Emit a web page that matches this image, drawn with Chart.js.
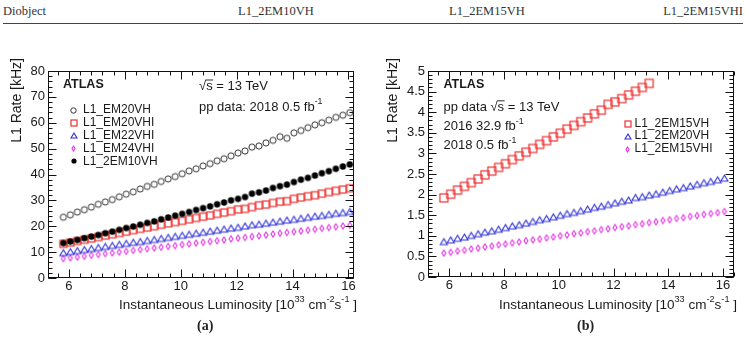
<!DOCTYPE html>
<html><head><meta charset="utf-8">
<script src="https://cdn.jsdelivr.net/npm/chart.js@4"></script>
<style>
html,body{margin:0;padding:0;background:#fff;width:746px;height:339px;overflow:hidden;position:relative;}
.h{position:absolute;top:4px;font-family:"Liberation Serif","Times New Roman",serif;font-size:12.5px;color:#333;white-space:nowrap;}
#rule{position:absolute;left:3px;top:23px;width:740px;height:1px;background:#444;}
canvas{position:absolute;top:0;}
#ca{left:0px;}
#cb{left:373px;}
.pl{position:absolute;top:318px;font-family:"Liberation Serif","Times New Roman",serif;font-weight:bold;font-size:14px;color:#222;}
</style></head>
<body>
<div class="h" style="left:3px">Diobject</div>
<div class="h" style="left:238px">L1_2EM10VH</div>
<div class="h" style="left:449px">L1_2EM15VH</div>
<div class="h" style="right:3px">L1_2EM15VHI</div>
<div id="rule"></div>
<canvas id="ca" width="373" height="339"></canvas>
<canvas id="cb" width="373" height="339"></canvas>
<div class="pl" style="left:197px">(a)</div>
<div class="pl" style="left:577px">(b)</div>
<script>
// ---------- data ----------
const lumi = [5.80, 6.05, 6.30, 6.55, 6.80, 7.05, 7.30, 7.55, 7.80, 8.05,
  8.30, 8.55, 8.80, 9.05, 9.30, 9.55, 9.80, 10.05, 10.30, 10.55,
  10.80, 11.05, 11.30, 11.55, 11.80, 12.05, 12.30, 12.55, 12.80, 13.05,
  13.30, 13.55, 13.80, 14.05, 14.30, 14.55, 14.80, 15.05, 15.30, 15.55,
  15.80, 16.05];

// panel (a)
const em20vh = [23.5, 24.4, 25.5, 26.4, 27.4, 28.5, 29.4, 30.3, 31.4, 32.4,
  33.3, 34.4, 35.4, 36.2, 37.3, 38.3, 39.2, 40.3, 41.4, 42.2,
  43.3, 44.2, 45.3, 46.1, 47.2, 48.3, 49.1, 50.6, 51.0, 52.2,
  53.2, 54.6, 54.0, 56.1, 57.0, 58.1, 59.2, 60.0, 61.0, 62.1,
  62.9, 63.9];
const em20vhi = [13.2, 13.7, 14.3, 14.8, 15.3, 15.8, 16.4, 16.9, 17.4, 17.9,
  18.5, 19.0, 19.5, 20.0, 20.6, 21.1, 21.6, 22.1, 22.7, 23.2,
  23.7, 24.2, 24.8, 25.3, 25.8, 26.5, 26.7, 27.4, 28.1, 28.4,
  29.0, 29.5, 29.7, 30.6, 31.1, 31.6, 32.0, 32.6, 33.2, 33.7,
  34.2, 34.7];
const em22vhi = [9.8, 10.2, 10.6, 11.0, 11.4, 11.8, 12.2, 12.6, 13.0, 13.4,
  13.8, 14.1, 14.5, 14.9, 15.3, 15.7, 16.1, 16.5, 16.9, 17.3,
  17.7, 18.1, 18.5, 18.9, 19.3, 19.6, 20.1, 20.6, 20.8, 21.2,
  21.6, 22.0, 22.4, 22.7, 23.1, 23.5, 23.9, 24.2, 24.6, 25.0,
  25.3, 25.7];
const em24vhi = [7.5, 7.8, 8.1, 8.4, 8.8, 9.1, 9.4, 9.7, 10.0, 10.3,
  10.7, 11.0, 11.3, 11.6, 11.9, 12.2, 12.5, 12.9, 13.2, 13.5,
  13.8, 14.1, 14.4, 14.7, 15.1, 15.4, 15.7, 16.0, 16.3, 16.6,
  17.0, 17.3, 17.6, 17.9, 18.2, 18.5, 18.8, 19.2, 19.5, 19.8,
  20.1, 20.4];
const twoEm10vh = [13.5, 14.1, 14.7, 15.4, 16.0, 16.6, 17.3, 17.9, 18.6, 19.3,
  19.9, 20.6, 21.3, 21.9, 22.7, 23.4, 24.1, 24.8, 25.5, 26.3,
  27.0, 27.7, 28.5, 29.2, 30.0, 30.6, 31.3, 32.6, 33.1, 33.8,
  34.8, 35.5, 36.1, 37.1, 38.0, 38.7, 39.6, 40.5, 41.3, 42.2,
  43.1, 43.9];

// panel (b)
const twoEm15vh = [1.92, 2.01, 2.11, 2.20, 2.29, 2.38, 2.48, 2.57, 2.66, 2.75,
  2.85, 2.94, 3.03, 3.12, 3.22, 3.31, 3.40, 3.49, 3.59, 3.68,
  3.77, 3.86, 3.96, 4.05, 4.19, 4.25, 4.33, 4.42, 4.51, 4.60,
  4.70];
const twoEm20vh = [0.86, 0.90, 0.94, 0.97, 1.01, 1.05, 1.09, 1.12, 1.16, 1.20,
  1.24, 1.27, 1.31, 1.35, 1.39, 1.42, 1.46, 1.50, 1.54, 1.57,
  1.61, 1.65, 1.69, 1.72, 1.76, 1.80, 1.84, 1.87, 1.93, 1.95,
  1.99, 2.02, 2.06, 2.10, 2.14, 2.17, 2.21, 2.25, 2.29, 2.32,
  2.36, 2.40];
const twoEm15vhi = [0.58, 0.60, 0.63, 0.65, 0.68, 0.70, 0.73, 0.75, 0.78, 0.80,
  0.83, 0.85, 0.88, 0.90, 0.92, 0.95, 0.97, 1.00, 1.02, 1.05,
  1.07, 1.10, 1.12, 1.15, 1.17, 1.20, 1.22, 1.24, 1.27, 1.29,
  1.32, 1.34, 1.37, 1.39, 1.42, 1.44, 1.47, 1.49, 1.52, 1.54,
  1.56, 1.59];

const xTicks = [6, 8, 10, 12, 14, 16];
const yTicksA = [0, 10, 20, 30, 40, 50, 60, 70, 80];
const yTicksB = [0, 0.5, 1, 1.5, 2, 2.5, 3, 3.5, 4, 4.5, 5];
const legendA = ['L1_EM20VH', 'L1_EM20VHI', 'L1_EM22VHI', 'L1_EM24VHI', 'L1_2EM10VH'];
const legendB = ['L1_2EM15VH', 'L1_2EM20VH', 'L1_2EM15VHI'];

// ---------- styling ----------
const FONT = '"Liberation Sans", Arial, Helvetica, sans-serif';
const TXT = '#1a1a1a';
const RED = '#ee3030', BLUE = '#2e2ed6', MAG = '#e633e6', GREY = '#333333';

function mk(w, h, fn) { const c = document.createElement('canvas'); c.width = w; c.height = h; fn(c.getContext('2d')); return c; }
function openCircle(r, col) { const s = Math.ceil(2 * r + 3); return mk(s, s, g => { g.strokeStyle = col; g.lineWidth = 1; g.beginPath(); g.arc(s / 2, s / 2, r, 0, 2 * Math.PI); g.stroke(); }); }
function dot(r, col) { const s = Math.ceil(2 * r + 2); return mk(s, s, g => { g.fillStyle = col; g.beginPath(); g.arc(s / 2, s / 2, r, 0, 2 * Math.PI); g.fill(); }); }
function square(a, col) { const s = a + 4; return mk(s, s, g => { g.strokeStyle = col; g.lineWidth = 1.2; g.strokeRect(2, 2, a, a); }); }
function triangle(w, h, col) { const sw = w + 4, sh = h + 4; return mk(sw, sh, g => { g.strokeStyle = col; g.lineWidth = 1.1; g.beginPath(); g.moveTo(sw / 2, 2); g.lineTo(2 + w, 2 + h); g.lineTo(2, 2 + h); g.closePath(); g.stroke(); }); }
function diamond(w, h, col) { const sw = w + 4, sh = h + 4; return mk(sw, sh, g => { g.strokeStyle = col; g.lineWidth = 1.1; g.beginPath(); g.moveTo(sw / 2, 2); g.lineTo(2 + w, sh / 2); g.lineTo(sw / 2, 2 + h); g.lineTo(2, sh / 2); g.closePath(); g.stroke(); }); }

const M = {
  circ: openCircle(3.1, GREY), dot: dot(3.2, '#000'), sq: square(7, RED), sqB: square(8, RED), tri: triangle(7, 6, BLUE), dia: diamond(4, 6, MAG),
  circL: openCircle(2.7, GREY), dotL: dot(2.6, '#000'), sqL: square(6, RED), triL: triangle(6, 5, BLUE), diaL: diamond(3, 5, MAG)
};

function pts(xs, ys) { return ys.map((v, i) => ({ x: xs[i], y: v })); }
function ds(label, ys, marker, order) { return { label, data: pts(lumi, ys), pointStyle: marker, pointRadius: 4, showLine: false, order }; }

// rich text with superscripts; y = vertical middle
function richWidth(ctx, segs, size) {
  let w = 0;
  for (const s of segs) { ctx.font = (s.sup ? size * 0.68 : size) + 'px ' + FONT; w += ctx.measureText(s.t).width; }
  return w;
}
function drawRich(ctx, segs, x, y, size, align) {
  ctx.save();
  ctx.textBaseline = 'middle'; ctx.textAlign = 'left'; ctx.fillStyle = TXT;
  let cx = align === 'right' ? x - richWidth(ctx, segs, size) : x;
  for (const s of segs) {
    ctx.font = (s.sup ? size * 0.68 : size) + 'px ' + FONT;
    ctx.fillText(s.t, cx, s.sup ? y - size * 0.42 : y);
    cx += ctx.measureText(s.t).width;
  }
  ctx.restore();
}
function sqrtS(ctx, x, y, size, prefix) {
  ctx.save();
  ctx.font = size + 'px ' + FONT; ctx.textBaseline = 'middle'; ctx.fillStyle = TXT;
  let cx = x;
  if (prefix) { ctx.fillText(prefix, cx, y); cx += ctx.measureText(prefix).width; }
  ctx.fillText('\u221A', cx, y); const wr = ctx.measureText('\u221A').width; cx += wr;
  ctx.fillText('s', cx, y); const ws = ctx.measureText('s').width;
  ctx.strokeStyle = TXT; ctx.lineWidth = 0.9; ctx.beginPath(); ctx.moveTo(cx - 0.5, y - size * 0.5); ctx.lineTo(cx + ws + 0.5, y - size * 0.5); ctx.stroke();
  cx += ws;
  ctx.fillText(' = 13 TeV', cx, y);
  ctx.restore();
}

function decor(chart, minorX, minorY, yMinorFirst, yMinorCount) {
  const { ctx, chartArea: a, scales: { x, y } } = chart;
  ctx.save();
  ctx.strokeStyle = '#111'; ctx.lineWidth = 1;
  const L = Math.round(a.left) + 0.5, R = Math.round(a.right) - 0.5, T = Math.round(a.top) + 0.5, B = Math.round(a.bottom) - 0.5;
  ctx.strokeRect(L, T, R - L, B - T);
  ctx.beginPath();
  const xt = (v, len) => { const p = Math.round(x.getPixelForValue(v)) + 0.5; ctx.moveTo(p, B); ctx.lineTo(p, B - len); ctx.moveTo(p, T); ctx.lineTo(p, T + len); };
  const yt = (v, len) => { const p = Math.round(y.getPixelForValue(v)) + 0.5; ctx.moveTo(L, p); ctx.lineTo(L + len, p); ctx.moveTo(R, p); ctx.lineTo(R - len, p); };
  xTicks.forEach(v => xt(v, 8));
  for (let k = -10; k <= 40; k++) { const v = 6 + k * minorX; if (v >= x.min && v <= x.max && Math.abs(v / 2 - Math.round(v / 2)) > 1e-6) xt(v, 4); }
  chart.options.scales.y.__major.forEach(v => yt(v, 8));
  for (let k = 0; k <= yMinorCount; k++) { const v = yMinorFirst + k * minorY; if (v >= y.min && v <= y.max) yt(v, 4); }
  ctx.stroke();
  ctx.restore();
}

function axisTitles(chart, yTitleX) {
  const { ctx, chartArea: a } = chart;
  drawRich(ctx, [{ t: 'Instantaneous Luminosity [10' }, { t: '33', sup: true }, { t: ' cm' }, { t: '-2', sup: true }, { t: 's' }, { t: '-1', sup: true }, { t: ' ]' }], a.right + 3, 305, 13.5, 'right');
  ctx.save();
  ctx.translate(yTitleX, 58); ctx.rotate(-Math.PI / 2);
  ctx.font = '14px ' + FONT; ctx.fillStyle = TXT; ctx.textAlign = 'right'; ctx.textBaseline = 'middle';
  ctx.fillText('L1 Rate [kHz]', 0, 0);
  ctx.restore();
}

function legendRows(ctx, names, markers, mx, tx, ys) {
  ctx.save();
  ctx.font = '12px ' + FONT; ctx.fillStyle = TXT; ctx.textBaseline = 'middle';
  names.forEach((n, i) => {
    const m = markers[i];
    ctx.drawImage(m, Math.round(mx - m.width / 2), Math.round(ys[i] - m.height / 2));
    ctx.fillText(n, tx, ys[i]);
  });
  ctx.restore();
}

function makeChart(id, datasets, cfg) {
  return new Chart(document.getElementById(id), {
    type: 'scatter',
    data: { datasets },
    options: {
      responsive: false, animation: false, devicePixelRatio: 1,
      layout: { padding: { top: cfg.top, right: cfg.right, left: 0, bottom: 0 } },
      plugins: { legend: { display: false }, tooltip: { enabled: false } },
      scales: {
        x: {
          type: 'linear', position: 'bottom', min: cfg.xmin, max: cfg.xmax,
          afterFit: s => { s.height = cfg.xh; },
          afterBuildTicks: s => { s.ticks = xTicks.map(v => ({ value: v })); },
          ticks: { color: TXT, font: { family: FONT, size: 13 }, padding: 1, maxRotation: 0, autoSkip: false, callback: v => String(v) },
          grid: { display: false, drawTicks: false }, border: { display: false }
        },
        y: {
          type: 'linear', position: 'left', min: cfg.ymin, max: cfg.ymax, __major: cfg.yTicks,
          afterFit: s => { s.width = cfg.yw; },
          afterBuildTicks: s => { s.ticks = cfg.yTicks.map(v => ({ value: v })); },
          ticks: { color: TXT, font: { family: FONT, size: 13 }, padding: 3, autoSkip: false, callback: v => String(v) },
          grid: { display: false, drawTicks: false }, border: { display: false }
        }
      }
    },
    plugins: [{
      id: 'decor',
      afterDatasetsDraw(chart) { decor(chart, 0.4, cfg.yMinor, 0, cfg.yMinorCount); },
      afterDraw(chart) { cfg.annot(chart); }
    }]
  });
}

// ---------- panel (a) ----------
makeChart('ca', [
  ds('L1_2EM10VH', twoEm10vh, M.dot, 0),
  ds('L1_EM20VH', em20vh, M.circ, 1),
  ds('L1_EM20VHI', em20vhi, M.sq, 2),
  ds('L1_EM22VHI', em22vhi, M.tri, 3),
  ds('L1_EM24VHI', em24vhi, M.dia, 4)
], {
  top: 71, right: 19, xh: 61, yw: 48, xmin: 5.25, xmax: 16.2, ymin: 0, ymax: 80, yTicks: yTicksA,
  yMinor: 2, yMinorCount: 40,
  annot(chart) {
    const { ctx, chartArea: a } = chart;
    ctx.save(); ctx.font = 'bold 12.5px ' + FONT; ctx.fillStyle = TXT; ctx.textBaseline = 'middle';
    ctx.fillText('ATLAS', a.left + 15, a.top + 14); ctx.restore();
    sqrtS(ctx, a.left + 151, a.top + 15.5, 13, '');
    drawRich(ctx, [{ t: 'pp data: 2018 0.5 fb' }, { t: '-1', sup: true }], a.left + 151, a.top + 36.5, 13);
    legendRows(ctx, legendA, [M.circL, M.sqL, M.triL, M.diaL, M.dotL], a.left + 25.5, a.left + 35, [a.top + 39, a.top + 52, a.top + 64.5, a.top + 77.3, a.top + 90.2]);
    axisTitles(chart, 17);
  }
});

// ---------- panel (b) ----------
makeChart('cb', [
  { label: 'L1_2EM15VH', data: pts(lumi, twoEm15vh), pointStyle: M.sqB, pointRadius: 4, showLine: false, order: 0 },
  ds('L1_2EM20VH', twoEm20vh, M.tri, 1),
  ds('L1_2EM15VHI', twoEm15vhi, M.dia, 2)
], {
  top: 71, right: 12, xh: 62, yw: 55, xmin: 5.22, xmax: 16.4, ymin: 0, ymax: 5, yTicks: yTicksB,
  yMinor: 0.1, yMinorCount: 50,
  annot(chart) {
    const { ctx, chartArea: a } = chart;
    ctx.save(); ctx.font = 'bold 12.5px ' + FONT; ctx.fillStyle = TXT; ctx.textBaseline = 'middle';
    ctx.fillText('ATLAS', a.left + 15.5, a.top + 14); ctx.restore();
    sqrtS(ctx, a.left + 15.5, a.top + 36.3, 13, 'pp data ');
    drawRich(ctx, [{ t: '2016 32.9 fb' }, { t: '-1', sup: true }], a.left + 15.5, a.top + 55.7, 13);
    drawRich(ctx, [{ t: '2018 0.5 fb' }, { t: '-1', sup: true }], a.left + 15.5, a.top + 74.7, 13);
    legendRows(ctx, legendB, [M.sqL, M.triL, M.diaL], a.left + 199.8, a.left + 206.5, [a.top + 53, a.top + 65, a.top + 78]);
    axisTitles(chart, 20);
  }
});
</script>
</body></html>
